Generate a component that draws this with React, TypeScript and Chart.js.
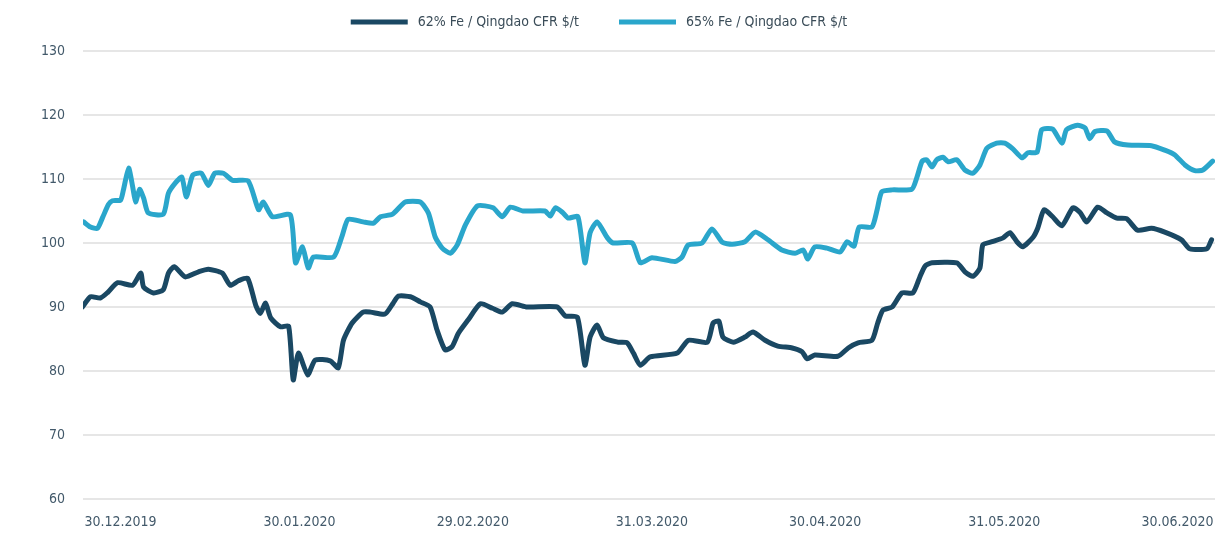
import React, { useEffect, useRef } from "react";
import { Chart, registerables } from "chart.js";

Chart.register(...registerables);

// Days counted from 30.12.2019
const days62 = [-6.6, -5.2, -3.5, -2.2, -0.5, 2.1, 3.5, 4.0, 5.7, 7.4, 8.3, 9.3, 11.2, 13.5, 15.2, 17.6, 19.0, 20.4, 22.0, 23.4, 24.2, 25.1, 26.0, 27.7, 29.1, 29.9, 30.8, 32.4, 33.7, 36.3, 37.7, 38.6, 40.1, 42.0, 43.3, 45.8, 47.2, 48.1, 50.2, 51.9, 53.6, 54.8, 56.2, 57.4, 58.5, 60.2, 62.3, 64.4, 66.1, 67.8, 70.4, 75.6, 77.0, 79.1, 80.4, 81.3, 82.5, 83.6, 86.2, 87.7, 88.8, 90.0, 91.7, 96.4, 98.3, 101.6, 102.6, 103.6, 104.3, 106.1, 108.1, 109.5, 111.6, 113.8, 116.3, 118.0, 118.9, 120.2, 124.2, 126.0, 127.7, 130.1, 131.1, 132.0, 133.6, 135.3, 137.2, 138.4, 139.3, 140.5, 144.8, 146.2, 147.6, 148.8, 149.3, 150.9, 152.8, 154.0, 155.2, 156.2, 158.0, 158.8, 159.9, 161.4, 163.0, 164.9, 166.1, 167.3, 169.2, 170.8, 172.5, 174.2, 176.1, 178.5, 180.8, 183.7, 185.1, 188.1, 188.9];
const fe62 = [90, 91.6, 91.4, 92.3, 93.8, 93.4, 95.3, 93.1, 92.2, 92.7, 95.3, 96.3, 94.7, 95.5, 95.9, 95.3, 93.4, 94.1, 94.5, 90.3, 89, 90.6, 88.3, 86.9, 87, 78.6, 82.8, 79.4, 81.7, 81.6, 80.5, 84.8, 87.5, 89.2, 89.2, 88.9, 90.6, 91.7, 91.6, 90.8, 90, 86.4, 83.3, 83.8, 85.9, 88, 90.5, 89.8, 89.2, 90.5, 90, 90, 88.6, 88.4, 80.9, 85.3, 87.2, 85.2, 84.5, 84.4, 82.8, 80.9, 82.2, 82.8, 84.8, 84.5, 87.5, 87.8, 85.3, 84.5, 85.3, 86.1, 84.8, 83.9, 83.6, 83, 81.9, 82.5, 82.3, 83.6, 84.4, 84.8, 87.5, 89.5, 90, 92.2, 92.2, 94.7, 96.4, 96.9, 96.9, 95.5, 94.8, 96.1, 99.7, 100.2, 100.8, 101.6, 100.2, 99.4, 100.9, 102.3, 105.2, 104.1, 102.7, 105.5, 104.8, 103.3, 105.6, 104.7, 103.9, 103.8, 102, 102.3, 101.7, 100.5, 99.1, 99.1, 100.5];

const days65 = [-6.4, -5.2, -4.0, -3.1, -2.1, -1.4, 0, 0.5, 1.4, 2.1, 2.6, 3.3, 4.0, 4.8, 7.4, 8.3, 9.5, 10.6, 11.4, 12.5, 14.0, 15.2, 16.3, 17.8, 19.4, 22.1, 23.9, 24.7, 26.3, 29.4, 30.3, 31.5, 32.5, 33.4, 36.9, 38.4, 39.4, 42.0, 43.8, 45.0, 47.1, 49.3, 51.9, 53.3, 54.5, 55.7, 57.1, 58.3, 59.7, 61.8, 64.5, 66.1, 67.5, 69.7, 73.5, 74.4, 75.3, 76.5, 77.5, 79.2, 80.4, 81.3, 82.5, 84.3, 85.3, 88.6, 90.0, 92.0, 96.0, 97.2, 98.3, 100.7, 102.4, 104.2, 105.9, 108.1, 109.9, 112.1, 114.5, 116.8, 118.2, 119.0, 120.2, 122.3, 124.6, 125.8, 127.0, 127.9, 130.1, 131.0, 131.8, 133.6, 137.0, 137.9, 138.8, 139.6, 140.5, 141.3, 142.4, 143.3, 144.8, 146.2, 147.6, 148.8, 150.0, 151.7, 153.1, 154.5, 156.1, 157.1, 158.7, 159.5, 161.4, 163.0, 163.8, 165.7, 167.0, 167.8, 168.7, 170.8, 172.1, 174.4, 178.5, 180.8, 182.5, 184.3, 186.0, 187.4, 189.1];
const fe65 = [103.3, 102.5, 102.3, 104, 106, 106.6, 106.7, 108.3, 111.7, 108.8, 106.4, 108.4, 107, 104.7, 104.5, 107.8, 109.4, 110.3, 107.2, 110.6, 110.9, 109, 110.9, 110.9, 109.8, 109.7, 105.2, 106.4, 104.1, 104.4, 96.9, 99.4, 96.1, 97.8, 97.8, 101.2, 103.7, 103.3, 103.1, 104.1, 104.5, 106.4, 106.4, 104.7, 100.9, 99.2, 98.4, 99.7, 102.8, 105.8, 105.5, 104.1, 105.6, 105, 105, 104.2, 105.5, 104.8, 103.9, 104.1, 96.9, 101.6, 103.3, 100.8, 100, 100, 96.9, 97.7, 97.1, 97.8, 99.7, 100, 102.2, 100.1, 99.8, 100.2, 101.7, 100.5, 98.9, 98.4, 98.9, 97.5, 99.4, 99.2, 98.6, 100.2, 99.5, 102.5, 102.5, 105.2, 108, 108.3, 108.4, 110.3, 112.8, 113, 111.9, 113, 113.4, 112.7, 113, 111.4, 110.9, 112.2, 114.8, 115.6, 115.6, 114.7, 113.3, 114.1, 114.2, 117.7, 117.8, 115.6, 117.7, 118.4, 118, 116.3, 117.4, 117.5, 115.8, 115.3, 115.2, 114.5, 113.8, 112.2, 111.3, 111.4, 112.8];

const tickDays = [0, 31, 61, 92, 122, 153, 183];
const tickLabels = ["30.12.2019", "30.01.2020", "29.02.2020", "31.03.2020", "30.04.2020", "31.05.2020", "30.06.2020"];

const seriesLabels = ["62% Fe / Qingdao CFR $/t", "65% Fe / Qingdao CFR $/t"];
const seriesColors = ["#1a4863", "#2aa6cb"];

const FONT = '"Liberation Sans Narrow", "DejaVu Sans Condensed", "Roboto", sans-serif';
const TEXT_COLOR = "#42596a";

const legendPlugin = {
  id: "customLegend",
  afterDraw(chart: any) {
    const ctx = chart.ctx;
    ctx.save();
    ctx.font = `14px ${FONT}`;
    ctx.textBaseline = "middle";
    const swatchW = 57;
    const gap = 10;
    const itemGap = 40;
    const items = chart.data.datasets.map((d: any) => ({ label: d.label, color: d.borderColor, w: ctx.measureText(d.label).width }));
    const total = items.reduce((s: number, it: any) => s + swatchW + gap + it.w, 0) + itemGap * (items.length - 1);
    let x = 599 - total / 2;
    const y = 22;
    for (const it of items) {
      ctx.fillStyle = it.color;
      ctx.fillRect(x, y - 2.5, swatchW, 5);
      ctx.fillStyle = "#3a4c58";
      ctx.fillText(it.label, x + swatchW + gap, y);
      x += swatchW + gap + it.w + itemGap;
    }
    ctx.restore();
  },
};

export default function App() {
  const ref = useRef<HTMLCanvasElement>(null);
  useEffect(() => {
    if (!ref.current) return;
    const chart = new Chart(ref.current, {
      type: "line",
      data: {
        datasets: [
          {
            label: seriesLabels[0],
            data: days62.map((d, i) => ({ x: d, y: fe62[i] })),
            borderColor: seriesColors[0],
            backgroundColor: seriesColors[0],
          },
          {
            label: seriesLabels[1],
            data: days65.map((d, i) => ({ x: d, y: fe65[i] })),
            borderColor: seriesColors[1],
            backgroundColor: seriesColors[1],
          },
        ].map((ds) => ({
          ...ds,
          borderWidth: 5,
          pointRadius: 0,
          tension: 0.2,
          borderJoinStyle: "round" as const,
          borderCapStyle: "round" as const,
          fill: false,
        })),
      },
      options: {
        responsive: false,
        animation: false,
        layout: { padding: { top: 51, right: 2, left: 0, bottom: 0 } },
        plugins: { legend: { display: false }, tooltip: { enabled: false } },
        scales: {
          x: {
            type: "linear",
            min: -6.5,
            max: 189.5,
            afterBuildTicks: (s: any) => {
              s.ticks = tickDays.map((v) => ({ value: v }));
            },
            afterFit: (s: any) => {
              s.height = 57;
              s.paddingLeft = 0;
              s.paddingRight = 0;
            },
            ticks: {
              autoSkip: false,
              maxRotation: 0,
              padding: 15,
              color: TEXT_COLOR,
              font: { family: FONT, size: 14 },
              callback: (v: any) => {
                const i = tickDays.indexOf(Number(v));
                return i >= 0 ? tickLabels[i] : "";
              },
            },
            grid: { display: false, drawTicks: false },
            border: { display: false },
          },
          y: {
            min: 60,
            max: 130,
            afterFit: (s: any) => {
              s.width = 83;
              s.paddingTop = 0;
              s.paddingBottom = 0;
            },
            ticks: {
              stepSize: 10,
              padding: 18,
              color: TEXT_COLOR,
              font: { family: FONT, size: 14 },
            },
            grid: { color: "#e6e6e6", lineWidth: 2, drawTicks: false },
            border: { display: false },
          },
        },
      },
      plugins: [legendPlugin],
    });
    return () => chart.destroy();
  }, []);
  return (
    <div style={{ position: "absolute", left: 0, top: 0, width: 1217, height: 556, background: "#fff" }}>
      <canvas ref={ref} width={1217} height={556} />
    </div>
  );
}
